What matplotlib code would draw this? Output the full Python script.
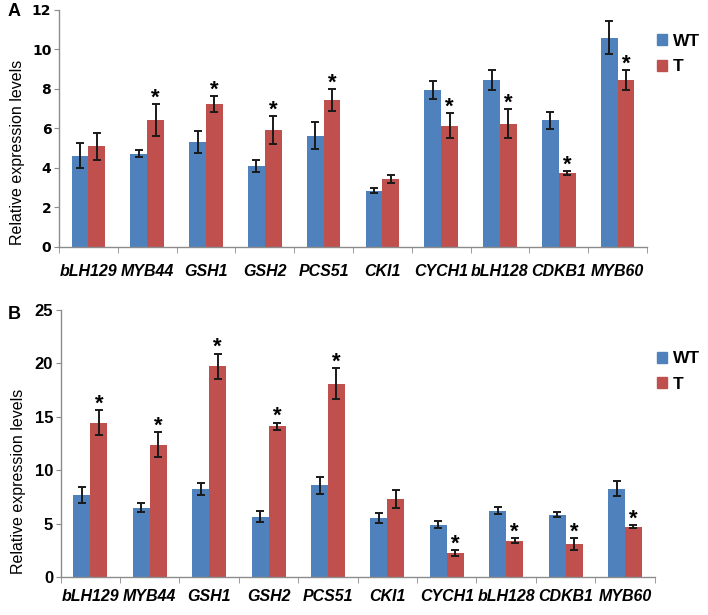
import matplotlib
matplotlib.use("Agg")
import matplotlib.pyplot as plt
from matplotlib.patches import Patch
import numpy as np

genes = ["bLH129", "MYB44", "GSH1", "GSH2", "PCS51", "CKI1", "CYCH1", "bLH128", "CDKB1", "MYB60"]

# Panel A
a_wt = [4.62, 4.72, 5.32, 4.12, 5.63, 2.85, 7.95, 8.45, 6.42, 10.6]
a_wt_err = [0.62, 0.17, 0.57, 0.3, 0.68, 0.12, 0.44, 0.52, 0.43, 0.82]
a_t = [5.1, 6.42, 7.23, 5.92, 7.43, 3.44, 6.14, 6.24, 3.73, 8.45]
a_t_err = [0.68, 0.8, 0.39, 0.71, 0.57, 0.22, 0.62, 0.73, 0.1, 0.5]
a_sig = [False, True, True, True, True, False, True, True, True, True]
a_yticks = [0, 2, 4, 6, 8, 10, 12]

# Panel B
b_wt = [7.67, 6.48, 8.26, 5.64, 8.57, 5.52, 4.89, 6.2, 5.83, 8.26]
b_wt_err = [0.75, 0.44, 0.56, 0.5, 0.83, 0.47, 0.34, 0.31, 0.25, 0.69]
b_t = [14.46, 12.38, 19.72, 14.12, 18.08, 7.29, 2.21, 3.4, 3.09, 4.71]
b_t_err = [1.15, 1.17, 1.2, 0.31, 1.45, 0.87, 0.28, 0.22, 0.53, 0.12]
b_sig = [True, True, True, True, True, False, True, True, True, True]
b_yticks = [0, 5, 10, 15, 20, 25]

series_names = ["WT", "T"]

BLUE = "#4F81BD"
RED = "#C0504D"
GRAY = "#8C8C8C"

fig = plt.figure(figsize=(7.08, 6.15), dpi=100)

def panel(rect, wt, wt_err, t, t_err, sig, yticks, tickfont, tickfs, xpad, leg_y, lab_y):
    ax = fig.add_axes(rect)
    n = len(genes)
    x = np.arange(n)
    w = 0.285
    ax.bar(x - w / 2, wt, w, color=BLUE, zorder=2)
    ax.bar(x + w / 2, t, w, color=RED, zorder=2)
    ax.errorbar(x - w / 2, wt, yerr=wt_err, fmt="none", ecolor="#1a1a1a",
                elinewidth=1.4, capsize=3.2, capthick=1.4, zorder=3)
    ax.errorbar(x + w / 2, t, yerr=t_err, fmt="none", ecolor="#1a1a1a",
                elinewidth=1.4, capsize=3.2, capthick=1.4, zorder=3)
    for i in range(n):
        if sig[i]:
            ax.annotate("*", (x[i] + w / 2, t[i] + t_err[i]), xytext=(0, 0.5),
                        textcoords="offset points", ha="center", va="baseline",
                        fontsize=16, fontweight="bold", family="Liberation Sans",
                        color="black")
    ax.set_xlim(-0.5, n - 0.5)
    ax.set_ylim(yticks[0], yticks[-1])
    ax.set_yticks(yticks)
    ax.set_yticklabels([str(v) for v in yticks], fontsize=tickfs, fontweight="bold",
                       family=tickfont)
    ax.set_xticks(x)
    ax.set_xticklabels(genes, fontsize=11.5, fontweight="bold", fontstyle="italic",
                       family="Liberation Sans")
    ax.set_xticks(np.arange(n + 1) - 0.5, minor=True)
    ax.tick_params(axis="x", which="major", length=0, pad=xpad)
    ax.tick_params(axis="x", which="minor", length=4, color=GRAY, direction="out")
    ax.tick_params(axis="y", length=3.5, color=GRAY, direction="out", pad=2)
    for s in ["top", "right"]:
        ax.spines[s].set_visible(False)
    for s in ["left", "bottom"]:
        ax.spines[s].set_color(GRAY)
        ax.spines[s].set_linewidth(1.0)
    ax.set_ylabel("Relative expression levels", fontsize=11.5, family="Liberation Sans")
    ax.yaxis.set_label_coords(-0.058, lab_y)
    handles = [Patch(color=BLUE, label=series_names[0]),
               Patch(color=RED, label=series_names[1])]
    fig.legend(handles=handles, loc="upper left", bbox_to_anchor=(0.928, leg_y),
               frameon=False, borderpad=0, borderaxespad=0,
               handlelength=0.6, handleheight=0.6, handletextpad=0.3,
               labelspacing=0.6, prop={"family": "Liberation Sans", "weight": "bold", "size": 12.5})
    return ax

axA = panel([0.0833, 0.5984, 0.8305, 0.3854], a_wt, a_wt_err, a_t, a_t_err, a_sig,
            a_yticks, "DejaVu Sans", 10, 12, 0.945, 0.40)
axB = panel([0.0857, 0.0618, 0.839, 0.4341], b_wt, b_wt_err, b_t, b_t_err, b_sig,
            b_yticks, "Liberation Sans", 12, 9, 0.429, 0.36)

fig.text(8 / 708, 1 - 11 / 615, "A", fontsize=13, fontweight="bold",
         family="Liberation Sans", va="center", ha="left")
fig.text(8 / 708, 1 - 314 / 615, "B", fontsize=13, fontweight="bold",
         family="Liberation Sans", va="center", ha="left")

fig.savefig("out.png", dpi=100)
